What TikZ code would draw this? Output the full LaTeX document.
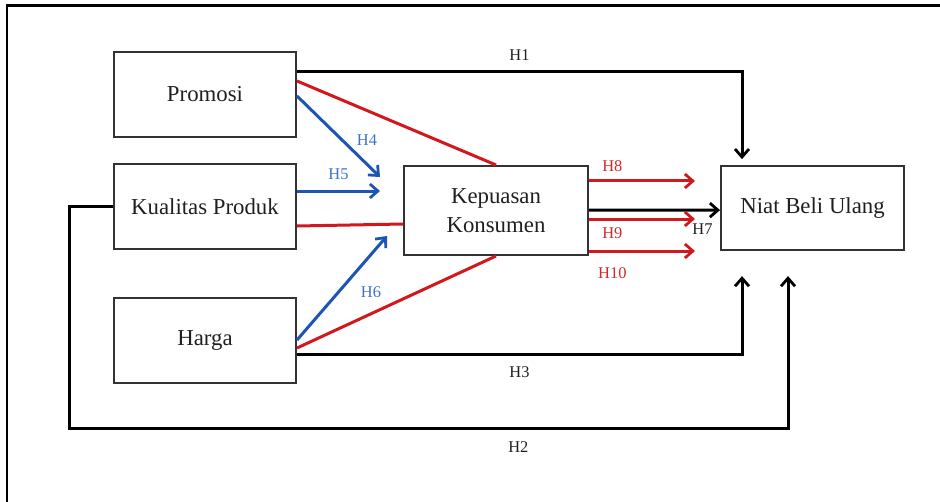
\documentclass[tikz,border=0pt]{standalone}
\usepackage{fontspec}
\setmainfont{Liberation Serif}
\usetikzlibrary{arrows.meta,positioning,calc}
\definecolor{hred}{RGB}{210,24,28}
\definecolor{hblue}{RGB}{28,86,180}
\definecolor{lblblue}{RGB}{62,114,198}
\definecolor{lblred}{RGB}{212,40,40}

\begin{document}
\begin{tikzpicture}[x=0.5pt, y=-0.5pt, node distance=12.5pt and 53pt, every node/.style={font=\fontsize{11.4}{14.5}\selectfont, text=black!88}, box/.style={draw=black!80,line width=1pt,align=center,minimum height=42.5pt,minimum width=91pt,inner sep=2pt}, lbl/.style={font=\fontsize{8.2}{10}\selectfont,inner sep=1pt}, arr/.style={-{Straight Barb[length=4pt,width=7pt,line width=1.4pt]},line width=1.5pt}, ln/.style={line width=1.5pt}]
\useasboundingbox (0,0) rectangle (940,502);
\draw[line width=1.3pt] (7,502) -- (7,5.5) -- (940,5.5);
% boxes
\node[box] (promosi) at (205,94.5) {Promosi};
\node[box,below=of promosi] (kualitas) {Kualitas Produk};
\node[box,below=23.5pt of kualitas] (harga) {Harga};
\node[box,right=of kualitas,yshift=-2pt,minimum width=92pt,minimum height=44.5pt] (kepuasan) {Kepuasan\\Konsumen};
\node[box,right=65.5pt of kepuasan,yshift=1.2pt,minimum width=91.5pt,minimum height=42pt] (niat) {Niat Beli Ulang};
% free ends
\coordinate (h1tip) at ($(niat.north west)+(22,-6)$);
\coordinate (h3tip) at ($(niat.south west)+(22,25)$);
\coordinate (h2tip) at ($(niat.south west)+(68,25)$);
\coordinate (h2corner) at (69,428);
\coordinate (h4tip) at (380,177);
\coordinate (h5tip) at (380,191);
\coordinate (h6tip) at (387,236);
\coordinate (h8tip) at (695,181);
\coordinate (h9tip) at (695,219);
\coordinate (h10tip) at (695,251);
% direct paths
\draw[arr] ($(promosi.east)+(0,-22.5)$) -| (h1tip) node[lbl,pos=0.25,above=4pt] {H1};
\draw[arr] (kualitas.west) -| (h2corner) -| (h2tip) node[lbl,pos=0.3125,below=5pt] {H2};
\draw[arr] ($(harga.east)+(0,14)$) -| (h3tip) node[lbl,pos=0.25,below=4.5pt] {H3};
% mediation
\draw[ln,hred] ($(promosi.east)+(0,-13.5)$) -- (kepuasan.north);
\draw[ln,hred] ($(kualitas.east)+(0,19.5)$) -- ($(kepuasan.west)+(0,13.5)$);
\draw[ln,hred] ($(harga.east)+(0,7.5)$) -- (kepuasan.south);
\draw[arr,hblue] ($(promosi.east)+(0,1.5)$) -- (h4tip) node[lbl,text=lblblue] at (367,140) {H4};
\draw[arr,hblue] ($(kualitas.east)+(0,-15.5)$) -- (h5tip) node[lbl,text=lblblue,pos=0.5,above=3.8pt] {H5};
\draw[arr,hblue] ($(harga.east)+(0,-0.5)$) -- (h6tip) node[lbl,text=lblblue] at (371,292) {H6};
\draw[arr] ($(kepuasan.east)+(0,-0.5)$) -- ($(niat.west)+(0,2)$) node[lbl,pos=1,below left=5.3pt and 2pt] {H7};
\draw[arr,hred] ($(kepuasan.east)+(0,-29.5)$) -- (h8tip) node[lbl,text=lblred,pos=0.22,above=3pt] {H8};
\draw[arr,hred] ($(kepuasan.east)+(0,8.5)$) -- (h9tip) node[lbl,text=lblred,pos=0.22,below=2.5pt] {H9};
\draw[arr,hred] ($(kepuasan.east)+(0,40.5)$) -- (h10tip) node[lbl,text=lblred,pos=0.22,below=6.5pt] {H10};
\end{tikzpicture}
\end{document}
